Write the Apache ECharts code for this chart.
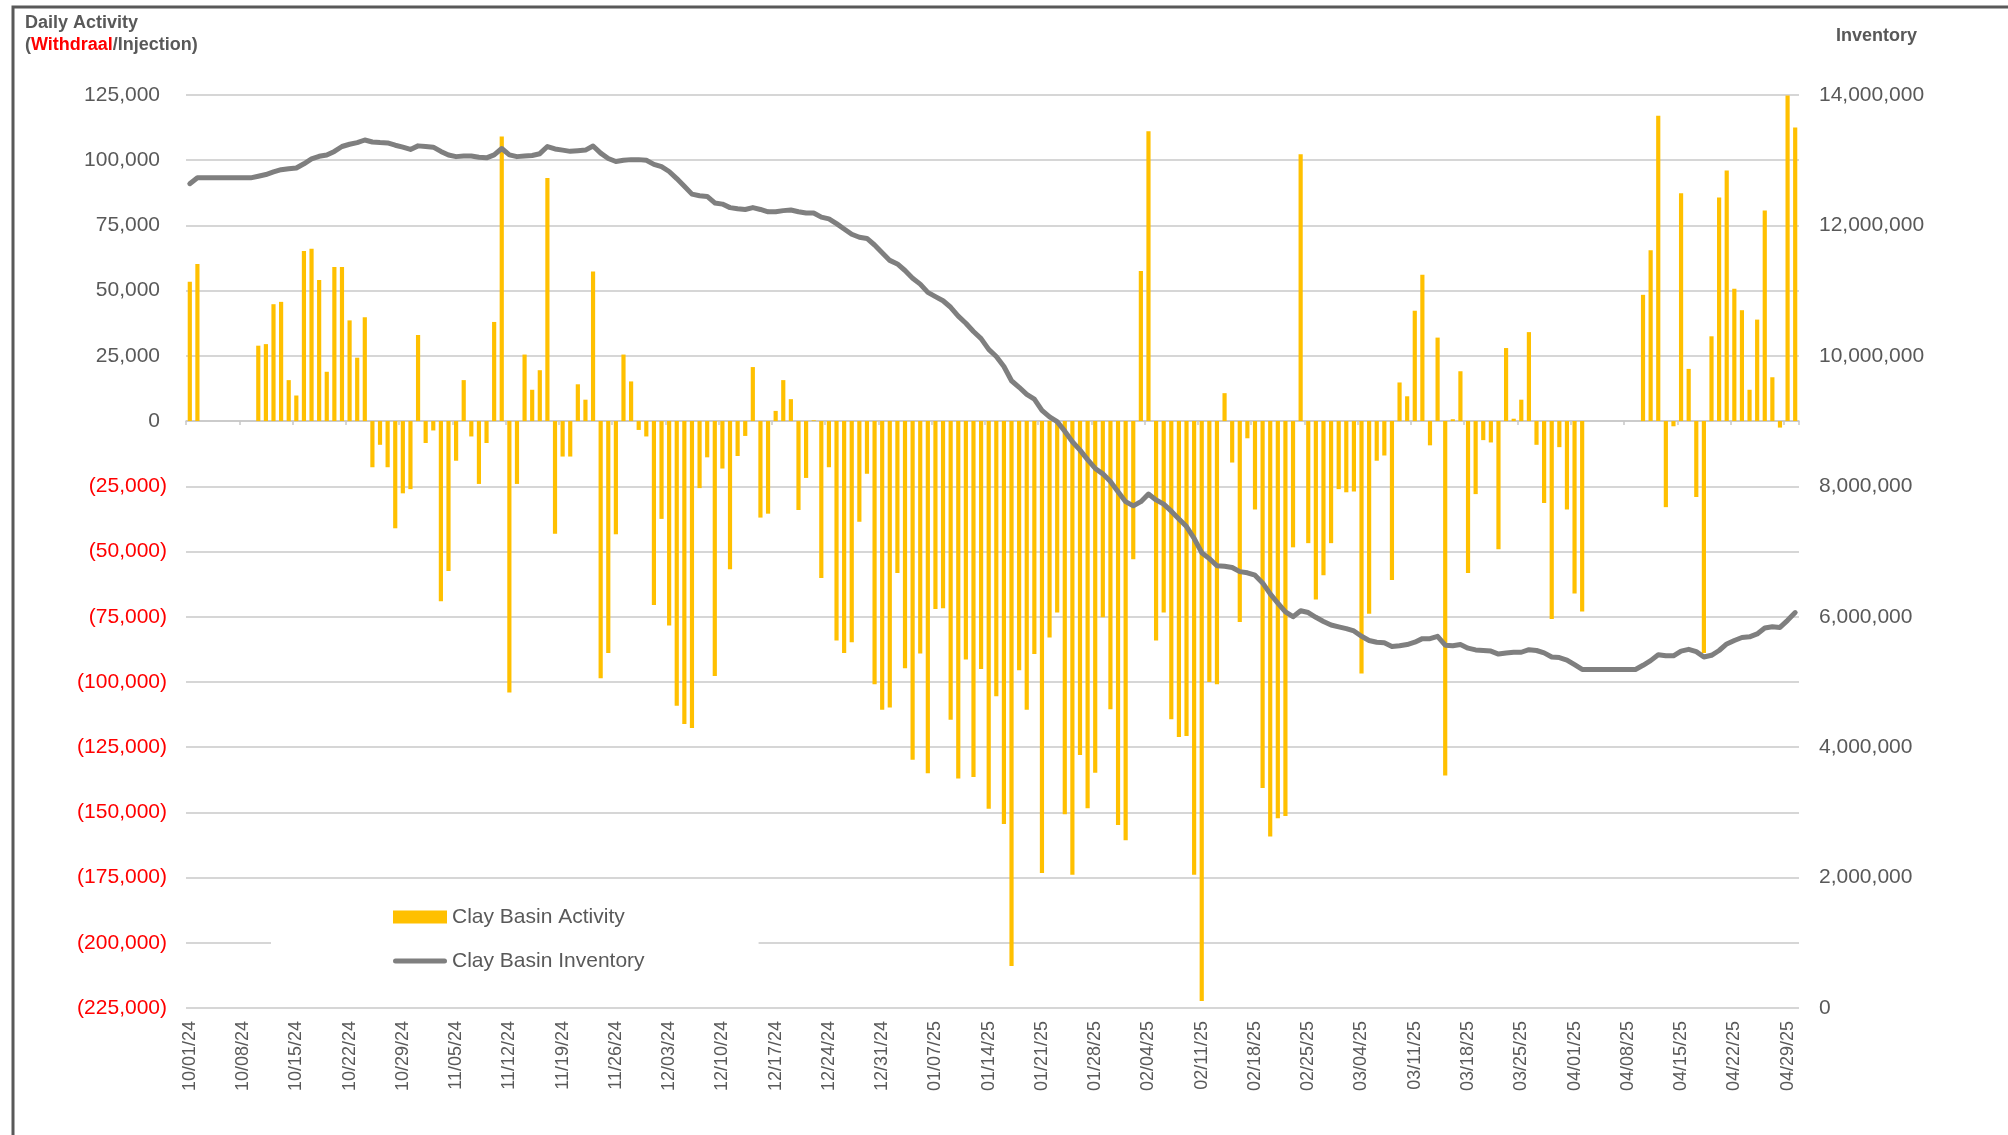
<!DOCTYPE html>
<html><head><meta charset="utf-8">
<script src="https://cdn.jsdelivr.net/npm/echarts@6/dist/echarts.min.js"></script>
<style>html,body{margin:0;padding:0;background:#fff}#c{width:2008px;height:1135px}</style>
</head><body><div id="c"></div>
<script>
// ---- data ----
const startYear = 2024, startMonth = 10, startDay = 1; // 10/01/24
const dayCount = 212;
const labelEvery = 7;

const activity = [
53400, 60200, 0, 0, 0, 0, 0, 0, 0,
28900, 29500, 44800, 45700, 15700, 9800, 65200, 66100, 54100, 18900,
59100, 59100, 38600, 24300, 39800, -17700, -9100, -17700, -41100, -27700,
-26100, 33000, -8400, -3600, -69100, -57500, -15200, 15700, -5900, -24100,
-8400, 38000, 109100, -104100, -24100, 25500, 12000, 19500, 93200, -43200,
-13600, -13600, 14100, 8200, 57300, -98600, -88900, -43400, 25500, 15200,
-3400, -5900, -70500, -37500, -78400, -109100, -116100, -117700, -25700, -13900,
-97700, -18200, -56800, -13400, -5700, 20700, -37000, -35500, 3900, 15700,
8400, -34100, -21800, 300, -60200, -17700, -84100, -88900, -84800, -38600,
-20200, -100900, -110700, -109800, -58200, -94800, -129800, -89100, -135000, -72000,
-71800, -114500, -137000, -91400, -136400, -95000, -148600, -105500, -154500, -208900,
-95500, -110700, -89300, -173200, -83000, -73400, -150700, -173900, -128000, -148400,
-134800, -75200, -110500, -154800, -160700, -53000, 57500, 111100, -84100, -73400,
-114300, -121100, -120700, -173900, -222300, -100000, -100900, 10700, -15900, -77000,
-6600, -33900, -140700, -159300, -152300, -151400, -48400, 102300, -46800, -68400,
-59100, -46800, -26100, -27300, -27000, -96800, -73900, -15200, -13200, -60900,
14800, 9500, 42300, 56100, -9300, 32000, -135900, 700, 19100, -58200,
-28000, -7300, -8200, -49100, 28000, 900, 8200, 34100, -9100, -31400,
-75900, -10000, -33900, -66100, -73000, 0, 0, 0, 0, 0,
0, 0, 48400, 65500, 117000, -33000, -2000, 87300, 20000, -29100,
-88900, 32500, 85700, 96100, 50700, 42500, 12000, 38900, 80700, 16800,
-2500, 124800, 112500
];

const inventory = [
12640000, 12730000, 12730000, 12730000, 12730000, 12730000, 12730000, 12730000, 12730000,
12755000, 12780000, 12820000, 12855000, 12870000, 12880000, 12945000, 13020000, 13060000, 13080000,
13135000, 13210000, 13245000, 13270000, 13310000, 13280000, 13270000, 13265000, 13230000, 13200000,
13165000, 13220000, 13210000, 13200000, 13135000, 13080000, 13055000, 13064000, 13064000, 13045000,
13036000, 13082000, 13180000, 13082000, 13055000, 13064000, 13073000, 13100000, 13210000, 13173000,
13155000, 13136000, 13145000, 13155000, 13218000, 13109000, 13027000, 12980000, 13000000, 13009000,
13009000, 13000000, 12936000, 12900000, 12827000, 12718000, 12600000, 12480000, 12455000, 12445000,
12345000, 12327000, 12273000, 12255000, 12245000, 12273000, 12245000, 12209000, 12209000, 12227000,
12236000, 12209000, 12190000, 12190000, 12127000, 12100000, 12027000, 11945000, 11864000, 11818000,
11800000, 11700000, 11582000, 11464000, 11409000, 11309000, 11191000, 11100000, 10973000, 10909000,
10845000, 10745000, 10609000, 10500000, 10373000, 10264000, 10100000, 9990000, 9836000, 9618000,
9518000, 9409000, 9336000, 9164000, 9064000, 8991000, 8845000, 8682000, 8555000, 8409000,
8273000, 8191000, 8073000, 7918000, 7764000, 7700000, 7764000, 7882000, 7791000, 7727000,
7618000, 7500000, 7382000, 7200000, 6982000, 6891000, 6782000, 6773000, 6755000, 6691000,
6673000, 6636000, 6518000, 6350000, 6209000, 6073000, 6000000, 6091000, 6064000, 5991000,
5927000, 5873000, 5845000, 5818000, 5782000, 5700000, 5636000, 5609000, 5600000, 5545000,
5555000, 5573000, 5609000, 5664000, 5664000, 5700000, 5564000, 5555000, 5573000, 5518000,
5491000, 5482000, 5473000, 5427000, 5445000, 5455000, 5455000, 5495000, 5482000, 5445000,
5382000, 5373000, 5336000, 5264000, 5191000, 5191000, 5191000, 5191000, 5191000, 5191000,
5191000, 5191000, 5255000, 5327000, 5418000, 5400000, 5400000, 5473000, 5500000, 5464000,
5382000, 5409000, 5482000, 5582000, 5636000, 5682000, 5691000, 5736000, 5827000, 5845000,
5836000, 5945000, 6064000
];

const leftMin = -225000, leftMax = 125000, leftStep = 25000;
const rightMin = 0, rightMax = 14000000, rightStep = 2000000;
const seriesNames = ['Clay Basin Activity', 'Clay Basin Inventory'];

// ---- categories (dates) ----
function pad(n){ return (n < 10 ? '0' : '') + n; }
const categories = [];
for (let k = 0; k < dayCount; k++) {
  const d = new Date(Date.UTC(startYear, startMonth - 1, startDay + k));
  categories.push(pad(d.getUTCMonth() + 1) + '/' + pad(d.getUTCDate()) + '/' + String(d.getUTCFullYear()).slice(2));
}
function fmt(n){ return String(Math.round(n)).replace(/\B(?=(\d{3})+(?!\d))/g, ','); }

const F = '"Liberation Sans", Arial, Helvetica, sans-serif';
const GRAY = '#595959';
const LINE_ICON = 'path://M2.5,0 L51.5,0 A2.5,2.5 0 0 1 51.5,5 L2.5,5 A2.5,2.5 0 0 1 2.5,0 Z';

const chart = echarts.init(document.getElementById('c'), null, {renderer: 'canvas'});
chart.setOption({
  animation: false,
  backgroundColor: '#fff',
  title: [{
    left: 25, top: 12, padding: 0,
    text: '{g|Daily Activity}\n{g|(}{r|Withdraal}{g|/Injection)}',
    textStyle: { rich: {
      g: {fontSize: 18, fontWeight: 'bold', color: GRAY, fontFamily: F, lineHeight: 22},
      r: {fontSize: 18, fontWeight: 'bold', color: '#FF0000', fontFamily: F, lineHeight: 22}
    }}
  }, {
    left: 1836, top: 27, padding: 0,
    text: 'Inventory',
    textStyle: {fontSize: 18, fontWeight: 'bold', color: GRAY, fontFamily: F}
  }],
  graphic: [{
    type: 'polyline', silent: true,
    shape: {points: [[13, 1135], [13, 7], [2008, 7]]},
    style: {stroke: GRAY, lineWidth: 3, fill: null}
  }],
  grid: {left: 186, right: 209, top: 95, bottom: 127, containLabel: false},
  legend: {
    orient: 'vertical', left: 271, top: 891,
    padding: [14, 114, 14, 122],
    backgroundColor: '#fff',
    itemWidth: 54, itemHeight: 13, itemGap: 20,
    textStyle: {fontSize: 21, color: GRAY, fontFamily: F, lineHeight: 24},
    data: [
      {name: seriesNames[0], icon: 'rect'},
      {name: seriesNames[1], icon: LINE_ICON, itemStyle: {color: '#7F7F7F'}}
    ]
  },
  xAxis: [{
    type: 'category', data: categories, position: 'bottom', boundaryGap: true,
    axisLine: {show: false, onZero: false},
    axisTick: {show: false},
    axisLabel: {interval: labelEvery - 1, rotate: 90, fontSize: 18, color: GRAY, fontFamily: F, margin: 13}
  }, {
    type: 'category', data: categories, position: 'bottom', boundaryGap: true,
    axisLine: {show: true, onZero: true, onZeroAxisIndex: 0, lineStyle: {color: '#C8C8C8', width: 1.5}},
    axisTick: {show: true, interval: labelEvery - 1, length: 4, lineStyle: {color: '#C8C8C8', width: 1.5}},
    axisLabel: {show: false}
  }],
  yAxis: [{
    type: 'value', min: leftMin, max: leftMax, interval: leftStep,
    axisLine: {show: false}, axisTick: {show: false},
    splitLine: {show: true, lineStyle: {color: '#C8C8C8', width: 1.5}},
    axisLabel: {
      margin: 19,
      formatter: v => v < 0 ? '{n|(' + fmt(-v) + ')}' : '{p|' + fmt(v) + '}',
      rich: {
        n: {color: '#FF0000', fontSize: 21, fontFamily: F},
        p: {color: GRAY, fontSize: 21, fontFamily: F, padding: [0, 7, 0, 0]}
      }
    }
  }, {
    type: 'value', min: rightMin, max: rightMax, interval: rightStep, position: 'right',
    axisLine: {show: false}, axisTick: {show: false}, splitLine: {show: false},
    axisLabel: {margin: 20, fontSize: 21, color: GRAY, fontFamily: F, formatter: v => fmt(v)}
  }],
  series: [{
    name: seriesNames[0], type: 'bar', xAxisIndex: 0, yAxisIndex: 0,
    data: activity, barWidth: '55%',
    itemStyle: {color: '#FFC000'}
  }, {
    name: seriesNames[1], type: 'line', xAxisIndex: 0, yAxisIndex: 1,
    data: inventory, symbol: 'none', showSymbol: false,
    lineStyle: {color: '#7F7F7F', width: 5, cap: 'round', join: 'round'},
    itemStyle: {color: '#7F7F7F'}
  }]
});
</script>
</body></html>
